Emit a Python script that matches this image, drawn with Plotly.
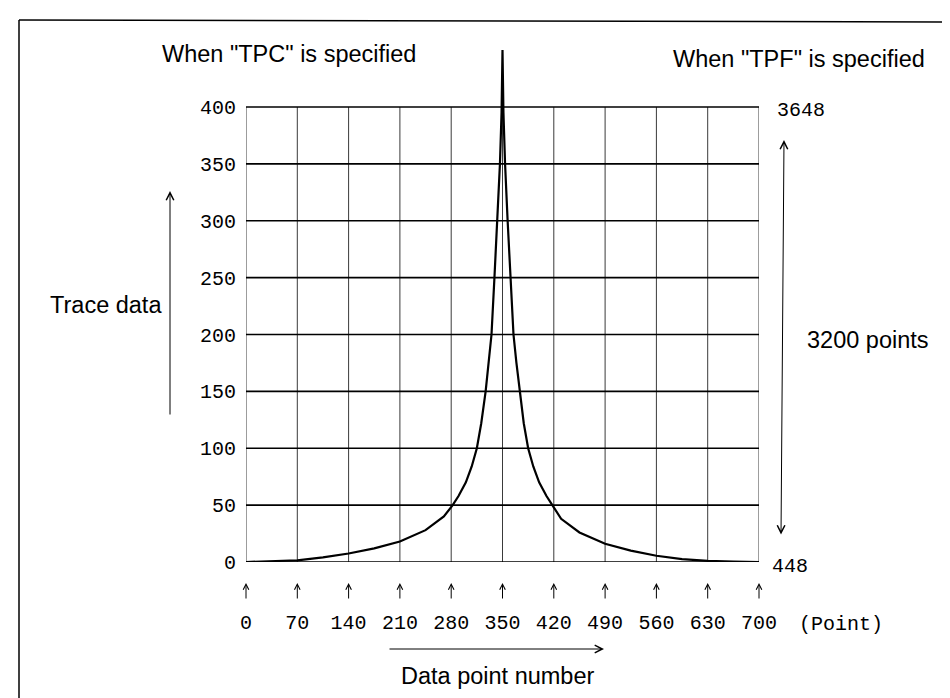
import plotly.graph_objects as go

# ---------------- data ----------------
x_ticks = [0, 70, 140, 210, 280, 350, 420, 490, 560, 630, 700]
x_tick_labels = ["0", "70", "140", "210", "280", "350", "420", "490", "560", "630", "700"]
y_ticks = [0, 50, 100, 150, 200, 250, 300, 350, 400]
y_tick_labels = ["0", "50", "100", "150", "200", "250", "300", "350", "400"]

curve_x = [0, 35, 70, 105, 140, 175, 210, 245, 270, 282, 290, 300, 308, 315, 321, 327,
           331, 335, 339, 343, 346.5, 348.7, 350,
           351.3, 353.5, 357, 361, 365, 369, 373.5, 379, 385, 392, 400, 410, 418,
           430, 455, 490, 525, 560, 595, 630, 665, 700]
curve_y = [0, 0.5, 1.5, 4, 7.5, 12, 18, 28, 40, 50, 58, 70, 84, 100, 122, 150,
           175, 200, 250, 300, 350, 395, 450,
           395, 350, 300, 250, 200, 175, 150, 122, 100, 84, 70, 58, 50,
           38, 26, 16, 10, 5.5, 2.5, 1, 0.3, 0]

right_top_label = "3648"
right_bottom_label = "448"

W, H = 950, 698
L, R, T, B = 238, 199, 36, 144
Y_MAX = 455.4

def px(xp):
    return (xp - L) / (W - L - R)

def py(yp):
    return (H - B - yp) / (H - T - B)

fig = go.Figure()
fig.add_trace(go.Scatter(x=curve_x, y=curve_y, mode="lines",
                         line=dict(color="black", width=2.2), cliponaxis=False,
                         hoverinfo="skip", showlegend=False))

shapes = []
for xv in x_ticks:
    shapes.append(dict(type="line", xref="x", yref="y", x0=xv, x1=xv, y0=0, y1=400,
                       line=dict(color="#3a3a3a", width=1), layer="below"))
for yv in y_ticks:
    shapes.append(dict(type="line", xref="x", yref="y", x0=0, x1=700, y0=yv, y1=yv,
                       line=dict(color="black", width=1.6), layer="below"))
# scanned page frame
shapes.append(dict(type="line", xref="paper", yref="paper", x0=px(11), x1=px(11),
                   y0=py(12), y1=py(697), line=dict(color="black", width=1.5)))
shapes.append(dict(type="line", xref="paper", yref="paper", x0=px(11), x1=px(950),
                   y0=py(12), y1=py(14), line=dict(color="black", width=1.5)))
shapes.append(dict(type="line", xref="paper", yref="paper", x0=px(0), x1=px(950),
                   y0=py(696), y1=py(696), line=dict(color="black", width=1.5)))

sans = "Liberation Sans, Arial, sans-serif"
mono = "Liberation Mono, DejaVu Sans Mono, monospace"

ann = []
def text(t, x, y, size=23.5, fam=sans, xanchor="left"):
    ann.append(dict(text=t, x=px(x), y=py(y), xref="paper", yref="paper",
                    showarrow=False, xanchor=xanchor, yanchor="middle",
                    font=dict(family=fam, size=size, color="black")))

text('When "TPC" is specified', 152, 46)
text('When "TPF" is specified', 663, 51)
text("Trace data", 40, 297)
text("3200 points", 797, 332)
text("Data point number", 490, 668, xanchor="center")
text(right_top_label, 767, 103, size=20, fam=mono)
text(right_bottom_label, 762, 558, size=20, fam=mono)
text("(Point)", 789, 616, size=20, fam=mono)

def arrow(xh, yh, ax, ay, side="end", xref="paper", xval=None, size=1.3):
    ann.append(dict(text="", x=(xval if xval is not None else px(xh)), y=py(yh),
                    xref=xref, yref="paper", showarrow=True, ax=ax, ay=ay,
                    arrowhead=5, arrowsize=size, arrowwidth=1, arrowcolor="black",
                    arrowside=side))

for xv in x_ticks:
    arrow(None, 575, 0, 17, xref="x", xval=xv, size=1.1)
arrow(162, 183, 0, 225, size=1.5)
arrow(776, 132, -3, 396, side="end+start", size=1.5)
arrow(596, 641, -216, 0, size=1.5)

fig.update_layout(
    width=W, height=H, margin=dict(l=L, r=R, t=T, b=B),
    paper_bgcolor="white", plot_bgcolor="white",
    showlegend=False, shapes=shapes, annotations=ann,
    xaxis=dict(range=[0, 700], tickvals=x_ticks, ticktext=x_tick_labels,
               showgrid=False, zeroline=False, showline=False, ticks="",
               ticklabelstandoff=46,
               tickfont=dict(family=mono, size=20, color="black")),
    yaxis=dict(range=[0, Y_MAX], tickvals=y_ticks, ticktext=y_tick_labels,
               showgrid=False, zeroline=False, showline=False, ticks="",
               ticklabelstandoff=9,
               tickfont=dict(family=mono, size=20, color="black")),
)

fig.write_html("out.html")
